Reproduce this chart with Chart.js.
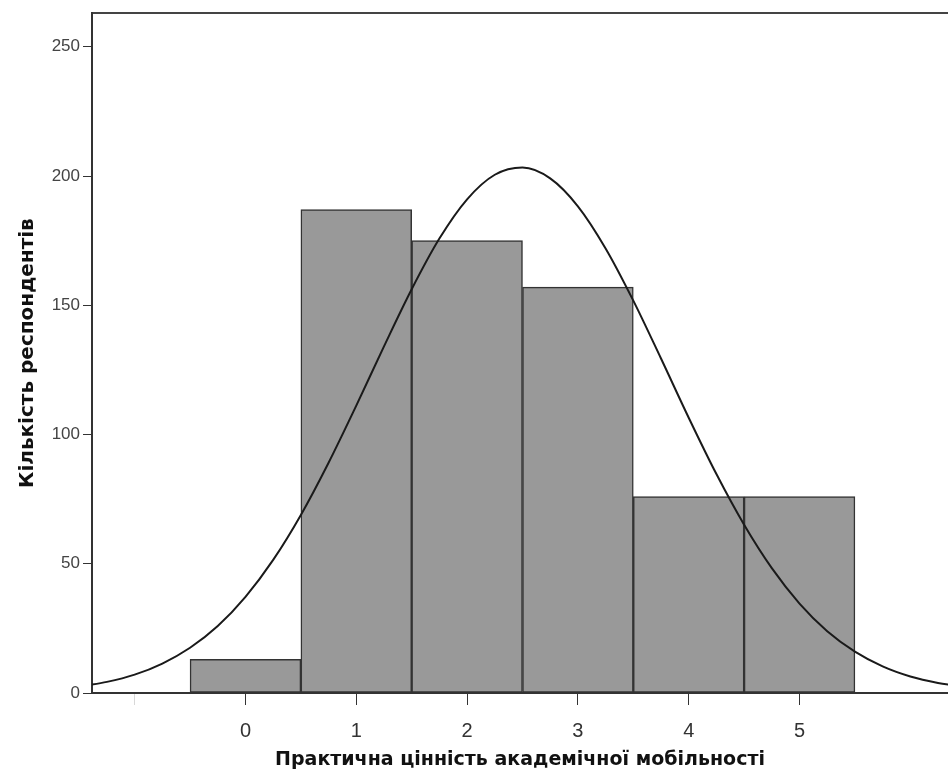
<!DOCTYPE html>
<html>
<head>
<meta charset="utf-8">
<script src="https://cdn.jsdelivr.net/npm/chart.js@4.4.1/dist/chart.umd.min.js"></script>
<style>
  html, body { margin: 0; padding: 0; background: #fff; }
  #wrap { width: 948px; height: 771px; }
</style>
</head>
<body>
<div id="wrap"><canvas id="hist" width="948" height="771"></canvas></div>
<script>
// ---- data ----
const binCenters  = [0, 1, 2, 3, 4, 5];
const xTickLabels = ['0', '1', '2', '3', '4', '5'];
const counts      = [13, 187, 175, 157, 76, 76];

// normal curve
const curveX = [-1.5, -1.25, -1, -0.75, -0.5, -0.25, 0, 0.25, 0.5, 0.75, 1, 1.25, 1.5, 1.75, 2, 2.25, 2.5,
                2.75, 3, 3.25, 3.5, 3.75, 4, 4.25, 4.5, 4.75, 5, 5.25, 5.5, 5.75, 6, 6.25, 6.5];
const curveY = [2.5, 4.3, 7.1, 11.4, 17.5, 25.9, 37.2, 51.5, 68.9, 89.1, 111.2, 134.1, 156.2, 175.8, 191.0, 200.5, 203.3,
                199.1, 188.3, 172.0, 151.8, 129.4, 106.5, 84.7, 65.1, 48.3, 34.6, 23.9, 16.0, 10.3, 6.4, 3.9, 2.3];

const yTicks = [0, 50, 100, 150, 200, 250];

const xTitle = 'Практична цінність академічної мобільності';
const yTitle = 'Кількість респондентів';

const FONT = "'Liberation Sans', Arial, sans-serif";
const TITLE_FONT = "'DejaVu Sans', 'Liberation Sans', sans-serif";
const X_MIN = -1.385, X_MAX = 6.34, Y_MAX = 263;

new Chart(document.getElementById('hist'), {
  type: 'bar',
  data: {
    datasets: [
      {
        type: 'line',
        data: curveX.map((x, i) => ({ x, y: curveY[i] })),
        borderColor: '#1a1a1a',
        borderWidth: 2,
        pointRadius: 0,
        cubicInterpolationMode: 'monotone',
        fill: false,
        order: 0
      },
      {
        type: 'bar',
        data: binCenters.map((x, i) => ({ x, y: counts[i] })),
        backgroundColor: '#999999',
        borderColor: '#333333',
        borderWidth: 1.5,
        borderSkipped: false,
        barPercentage: 1,
        categoryPercentage: 1,
        order: 1
      }
    ]
  },
  options: {
    responsive: false,
    animation: false,
    layout: { padding: 0 },
    plugins: { legend: { display: false }, tooltip: { enabled: false } },
    scales: {
      x: {
        type: 'linear',
        min: X_MIN, max: X_MAX,
        offset: false,
        afterBuildTicks: s => { s.ticks = [-1, ...binCenters].map(v => ({ value: v })); },
        afterFit: s => { s.height = 78; },
        ticks: {
          autoSkip: false,
          maxRotation: 0,
          padding: 14,
          color: '#333',
          font: { family: FONT, size: 20 },
          callback: v => v < 0 ? '' : xTickLabels[binCenters.indexOf(v)]
        },
        grid: {
          offset: false,
          drawOnChartArea: false,
          drawTicks: true,
          tickLength: 12,
          color: c => (c.tick && c.tick.value < 0) ? '#d8d8d8' : '#333'
        },
        border: { display: true, color: '#333', width: 2 },
        title: {
          display: true,
          text: xTitle,
          color: '#111',
          font: { family: TITLE_FONT, size: 19, weight: 'bold' },
          padding: { top: 0, bottom: 0 }
        }
      },
      xTop: {
        type: 'linear',
        position: 'top',
        min: X_MIN, max: X_MAX,
        afterFit: s => { s.height = 13; },
        ticks: { display: false },
        grid: { display: false, drawTicks: false },
        border: { display: true, color: '#444', width: 2 }
      },
      y: {
        min: 0, max: Y_MAX,
        afterBuildTicks: s => { s.ticks = yTicks.map(v => ({ value: v })); },
        afterFit: s => { s.width = 92; },
        ticks: {
          padding: 3,
          color: '#444',
          font: { family: FONT, size: 17 }
        },
        grid: {
          drawOnChartArea: false,
          drawTicks: true,
          tickLength: 9,
          color: '#333'
        },
        border: { display: true, color: '#333', width: 2 },
        title: {
          display: true,
          text: yTitle,
          color: '#111',
          font: { family: TITLE_FONT, size: 20, weight: 'bold' },
          padding: { top: 16, bottom: 0 }
        }
      }
    }
  }
});
</script>
</body>
</html>
